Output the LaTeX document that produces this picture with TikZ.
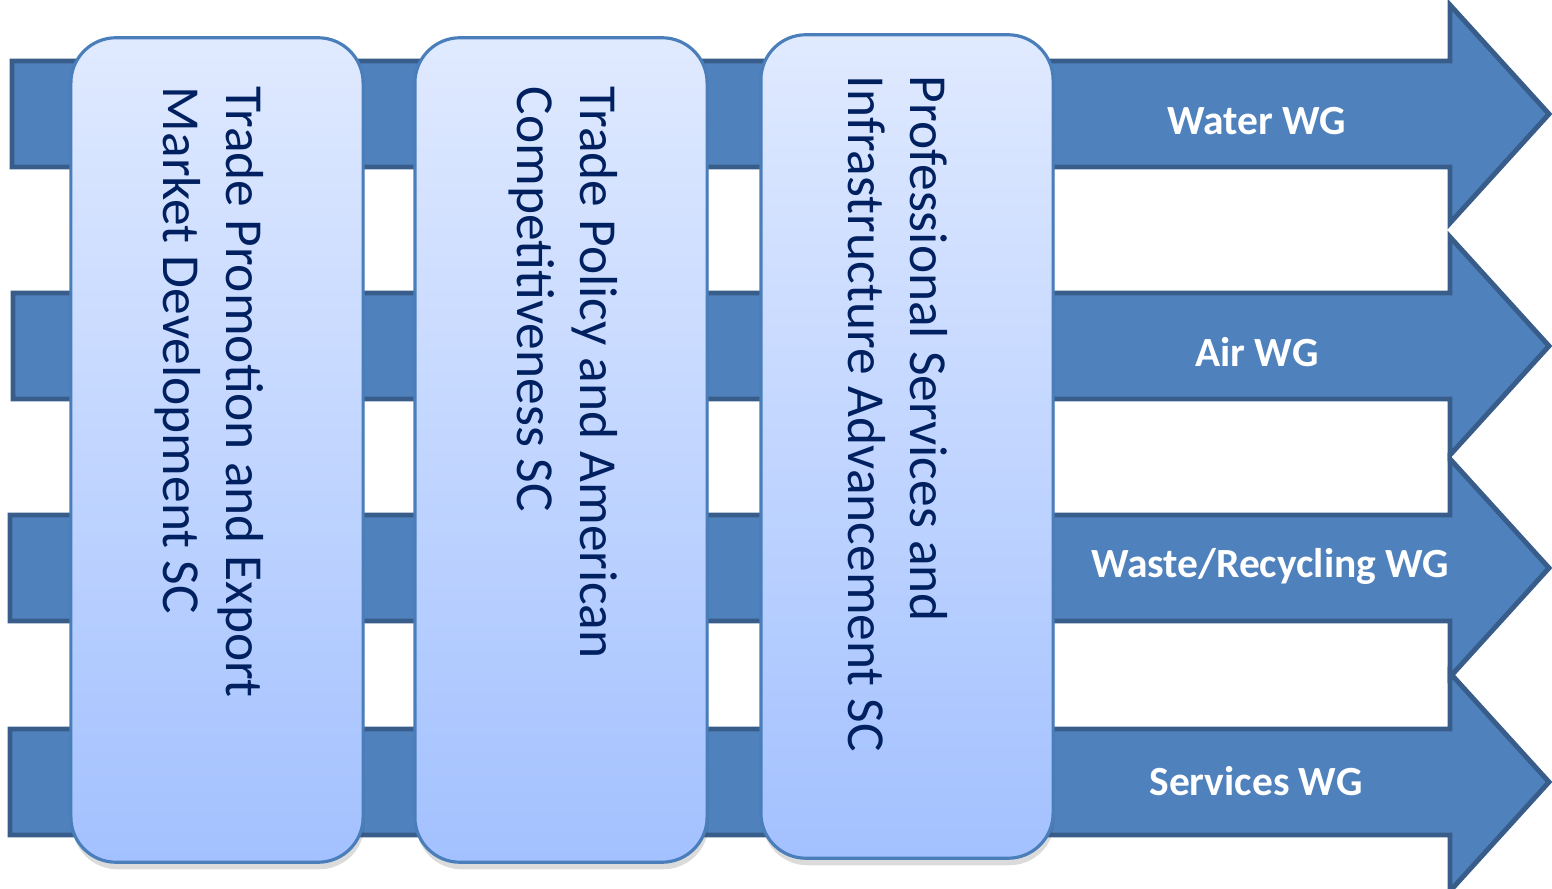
\documentclass[tikz,border=0pt]{standalone}
\usepackage{fontspec}
\setmainfont{Carlito}
\usepackage{tikz}
\usetikzlibrary{calc,shadows,positioning}
\usepackage{xcolor}
\definecolor{arrowfill}{RGB}{79,129,189}
\definecolor{arrowline}{RGB}{56,93,138}
\definecolor{boxtop}{RGB}{224,234,255}
\definecolor{boxbottom}{RGB}{163,193,255}
\definecolor{boxline}{RGB}{74,126,187}
\definecolor{navytext}{RGB}{0,32,96}

\begin{document}
\begin{tikzpicture}[x=0.01cm,y=-0.01cm]
        \tikzstyle{wgarrow}=[fill=arrowfill, draw=arrowline, line width=1.4pt, line join=miter]
        \tikzstyle{wglabel}=[text=white, font=\fontsize{11.8}{14}\selectfont\bfseries, inner sep=0pt]
        \tikzstyle{scbox}=[rounded corners=0.45cm, draw=boxline, line width=0.9pt, top color=boxtop, bottom color=boxbottom,
            minimum width=2.92cm, drop shadow={shadow xshift=0.4pt, shadow yshift=-2pt, opacity=0.2, fill=black!70}]
        \tikzstyle{sctext}=[rotate=-90, anchor=west, inner sep=0pt, text=navytext, align=left,
            font=\fontsize{15.2}{17.8}\selectfont]
        \useasboundingbox (0,0) rectangle (1552,889);
        % working group arrows (shaft and head)
        \foreach \c/\l in {114/12, 346/13, 568/10, 782/10} {
            \draw[wgarrow] (\l,\c-53) -- (1450,\c-53) -- (1450,\c-109) -- (1549,\c)
                -- (1450,\c+109) -- (1450,\c+53) -- (\l,\c+53) -- cycle;
        }
        % labels on the arrows
        \node[wglabel] (water) at (1257,121) {Water WG};
        \node[wglabel] (air) at (1257,352) {Air WG};
        \node[wglabel] (waste) at (1270,566) {Waste/Recycling WG};
        \node[wglabel] (services) at (1256,781) {Services WG};
        % subcommittee boxes
        \node[scbox, minimum height=8.24cm] (sc1) at (217,450) {};
        \node[scbox, minimum height=8.24cm] (sc2) at (561,450) {};
        \node[scbox, minimum height=8.23cm] (sc3) at (907,446.5) {};
        % rotated titles, read top to bottom
        \node[sctext] (t1) at ($(sc1.north)+(-8,50)$) {Trade Promotion and Export\\Market Development SC};
        \node[sctext] (t2) at ($(sc2.north)+(2,50)$) {Trade Policy and American\\Competitiveness SC};
        \node[sctext] (t3) at ($(sc3.north)+(-9,42)$) {Professional Services and\\Infrastructure Advancement SC};
    \end{tikzpicture}
\end{document}
